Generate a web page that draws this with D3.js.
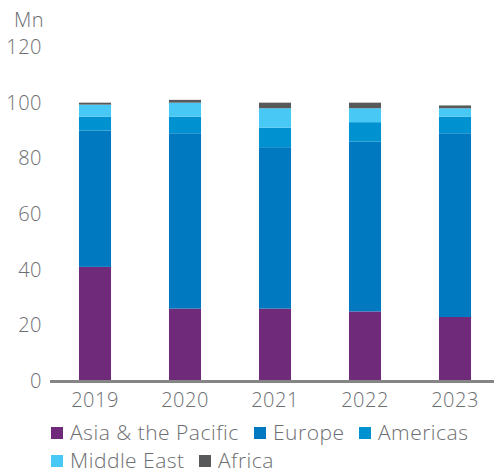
<!DOCTYPE html>
<html>
<head>
<meta charset="utf-8">
<script src="https://cdn.jsdelivr.net/npm/d3@7"></script>
<style>
  body { margin: 0; background: #fff; }
  text { font-family: "Open Sans", sans-serif; font-weight: 300; fill: #6d6e71; }
</style>
</head>
<body>
<div id="chart"></div>
<script>
// chart data
var years = ["2019", "2020", "2021", "2022", "2023"];
var regions = ["Asia & the Pacific", "Europe", "Americas", "Middle East", "Africa"];
var asiaPacific = [41, 26, 26, 25, 23];
var europe = [49, 63, 58, 61, 66];
var americas = [5, 6, 7, 7, 6];
var middleEast = [4.3, 5, 7, 5, 3];
var africa = [0.7, 1, 2, 2, 1];
var yTicks = [0, 20, 40, 60, 80, 100, 120];
var colors = ["#702a7a", "#0079c1", "#0091d0", "#48c8f5", "#58595b"];

var width = 494, height = 474;
var series = [asiaPacific, europe, americas, middleEast, africa];

var rows = years.map(function (y, i) {
    var row = { year: y };
    regions.forEach(function (r, k) { row[r] = series[k][i]; });
    return row;
});

var svg = d3.select("#chart").append("svg")
    .attr("width", width)
    .attr("height", height);

var x = d3.scaleBand()
    .domain(years)
    .range([50, 500])
    .paddingInner(0.644)
    .paddingOuter(0.322);

var y = d3.scaleLinear()
    .domain([0, 120])
    .range([381, 47]);

var stacked = d3.stack().keys(regions)(rows);

// y tick labels (no axis line)
svg.append("g").selectAll("text")
    .data(yTicks)
    .enter().append("text")
    .attr("x", 42)
    .attr("y", function (d) { return y(d); })
    .attr("dy", "0.35em")
    .attr("text-anchor", "end")
    .style("font-size", "20px")
    .style("letter-spacing", "0.5px")
    .text(function (d) { return d; });

svg.append("text")
    .attr("x", 14)
    .attr("y", 27)
    .style("font-size", "20px")
    .style("letter-spacing", "0.5px")
    .text("Mn");

// bars
svg.append("g").selectAll("g")
    .data(stacked)
    .enter().append("g")
    .attr("fill", function (d, i) { return colors[i]; })
    .selectAll("rect")
    .data(function (d) { return d; })
    .enter().append("rect")
    .attr("x", function (d) { return x(d.data.year); })
    .attr("width", x.bandwidth())
    .attr("y", function (d) { return y(d[1]); })
    .attr("height", function (d) { return y(d[0]) - y(d[1]); });

// x axis
var xAxis = svg.append("g")
    .attr("transform", "translate(0," + y(0) + ")")
    .call(d3.axisBottom(x).tickSize(0).tickPadding(12));
xAxis.select(".domain")
    .attr("d", "M50,0.5H494")
    .attr("stroke", "#858585")
    .attr("stroke-width", 3);
xAxis.selectAll("text")
    .style("font-size", "20px")
    .style("letter-spacing", "0.5px")
    .attr("fill", null);

// legend
var legendPos = [[51, 433], [254, 433], [359, 433], [51, 461], [199, 461]];
var legend = svg.append("g").selectAll("g")
    .data(regions)
    .enter().append("g")
    .attr("transform", function (d, i) {
        return "translate(" + legendPos[i][0] + "," + legendPos[i][1] + ")";
    });
legend.append("rect")
    .attr("y", -6)
    .attr("width", 12)
    .attr("height", 12)
    .attr("fill", function (d, i) { return colors[i]; });
legend.append("text")
    .attr("x", 19)
    .attr("dy", "0.35em")
    .style("font-size", "21px")
    .style("letter-spacing", "0.5px")
    .text(function (d) { return d; });
</script>
</body>
</html>
